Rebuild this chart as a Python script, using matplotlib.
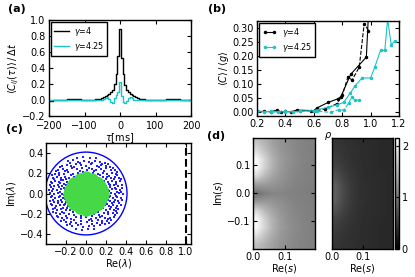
import numpy as np
import matplotlib
matplotlib.use("Agg")
import matplotlib.pyplot as plt

# ---- panel (a): cross-correlation vs lag ----
tau = [-200, -180, -160, -140, -120, -100, -80, -60,
       -55, -50, -45, -40, -35, -30, -25, -20, -15, -10, -5, 0,
       5, 10, 15, 20, 25, 30, 35, 40, 45, 50, 55,
       60, 80, 100, 120, 140, 160, 180, 200]
c_g4 = [-0.008, -0.005, 0.005, 0.01, 0.008, 0.0, 0.005, 0.008,
        0.012, 0.025, 0.035, 0.045, 0.06, 0.075, 0.10, 0.13, 0.20, 0.33, 0.55, 0.89,
        0.53, 0.32, 0.19, 0.13, 0.10, 0.075, 0.06, 0.045, 0.035, 0.025, 0.012,
        0.008, 0.005, 0.0, 0.005, 0.01, 0.008, 0.0, -0.005]
c_g425 = [0.0, -0.004, 0.002, 0.004, 0.0, -0.003, 0.002, 0.0,
          0.0, 0.005, 0.015, 0.03, 0.035, 0.01, -0.03, -0.035, 0.02, 0.06, 0.1, 0.22,
          0.05, -0.03, -0.035, -0.01, 0.02, 0.035, 0.02, 0.005, -0.005, 0.0, 0.0,
          0.002, -0.003, 0.0, 0.003, 0.0, -0.002, 0.002, 0.0]

# ---- panel (b): <C>/<g> vs rho ----
rho_g4 = [0.20, 0.25, 0.30, 0.34, 0.37, 0.40, 0.44, 0.48, 0.60, 0.62, 0.70,
          0.77, 0.79, 0.86, 0.97, 0.99]
cg_g4 = [0.004, 0.003, 0.002, 0.008, 0.001, 0.003, 0.002, 0.008, 0.006, 0.015,
         0.035, 0.048, 0.055, 0.135, 0.196, 0.40]
rho_g4_d = [0.58, 0.68, 0.76, 0.80, 0.84, 0.87, 0.92, 0.955, 0.985]
cg_g4_d = [0.003, 0.012, 0.03, 0.06, 0.125, 0.115, 0.16, 0.315, 0.29]
rho_g425 = [0.20, 0.25, 0.30, 0.35, 0.40, 0.45, 0.50, 0.60, 0.70, 0.76, 0.81,
            0.855, 0.89, 0.94, 1.00, 1.03, 1.07, 1.10, 1.12, 1.145, 1.17]
cg_g425 = [0.003, 0.002, 0.004, 0.001, 0.003, 0.002, 0.004, 0.006, 0.018,
           0.026, 0.035, 0.067, 0.094, 0.122, 0.122, 0.161, 0.22, 0.22, 0.33,
           0.24, 0.253]
rho_g425_d = [0.30, 0.40, 0.50, 0.62, 0.72, 0.78, 0.81, 0.845, 0.867, 0.89, 0.915]
cg_g425_d = [0.002, 0.001, 0.003, 0.004, 0.0, 0.01, 0.008, 0.032, 0.055, 0.043, 0.043]

# ---- panel (c): eigenvalue clouds ----
blue_pts = [
    (-0.09, 0.355), (-0.03, 0.365), (0.04, 0.352), (0.10, 0.348),
    (-0.18, 0.318), (-0.13, 0.33), (-0.08, 0.312), (-0.02, 0.325), (0.03, 0.31),
    (0.09, 0.322), (0.14, 0.315), (0.19, 0.305),
    (-0.24, 0.275), (-0.19, 0.285), (-0.15, 0.27), (-0.10, 0.29), (-0.05, 0.278),
    (0.0, 0.268), (0.05, 0.288), (0.11, 0.275), (0.15, 0.283), (0.20, 0.27), (0.24, 0.262),
    (-0.28, 0.235), (-0.23, 0.245), (-0.19, 0.232), (-0.14, 0.248), (-0.09, 0.238),
    (-0.04, 0.25), (0.01, 0.233), (0.06, 0.243), (0.10, 0.228), (0.15, 0.24),
    (0.20, 0.25), (0.25, 0.236), (0.29, 0.228),
    (-0.31, 0.195), (-0.27, 0.205), (-0.22, 0.19), (-0.18, 0.21), (-0.13, 0.198),
    (-0.08, 0.205), (-0.03, 0.21), (0.02, 0.195), (0.07, 0.2), (0.12, 0.192),
    (0.17, 0.205), (0.21, 0.195), (0.26, 0.203), (0.30, 0.19),
    (-0.33, 0.155), (-0.29, 0.165), (-0.25, 0.152), (-0.21, 0.168), (-0.17, 0.158),
    (-0.12, 0.163), (0.12, 0.155), (0.17, 0.168), (0.21, 0.16), (0.25, 0.152),
    (0.29, 0.165), (0.33, 0.158), (-0.07, 0.17), (0.06, 0.172),
    (-0.35, 0.115), (-0.31, 0.125), (-0.27, 0.118), (-0.23, 0.13), (-0.19, 0.112),
    (0.18, 0.12), (0.22, 0.11), (0.26, 0.128), (0.30, 0.115), (0.34, 0.122),
    (-0.36, 0.085), (-0.32, 0.075), (-0.28, 0.088), (-0.24, 0.078), (-0.20, 0.082),
    (0.20, 0.075), (0.24, 0.088), (0.28, 0.08), (0.32, 0.072), (0.36, 0.085),
    (-0.37, 0.035), (-0.33, 0.045), (-0.29, 0.038), (-0.25, 0.048), (-0.21, 0.04),
    (0.22, 0.035), (0.26, 0.047), (0.30, 0.04), (0.34, 0.033),
    (-0.36, 0.005), (-0.32, -0.005), (-0.28, 0.008), (-0.24, -0.002), (-0.21, 0.003),
    (0.21, -0.006), (0.25, 0.004), (0.29, -0.003), (0.33, 0.008), (0.37, -0.004),
    (-0.35, -0.035), (-0.31, -0.045), (-0.27, -0.038), (-0.23, -0.042),
    (0.23, -0.038), (0.27, -0.045), (0.31, -0.035), (0.35, -0.042),
    (-0.36, -0.078), (-0.32, -0.085), (-0.28, -0.075), (-0.24, -0.088), (-0.20, -0.08),
    (0.20, -0.085), (0.24, -0.078), (0.28, -0.088), (0.32, -0.075),
    (-0.34, -0.115), (-0.30, -0.125), (-0.26, -0.118), (-0.22, -0.112), (-0.18, -0.128),
    (0.19, -0.115), (0.23, -0.125), (0.27, -0.118), (0.31, -0.122), (0.35, -0.11),
    (-0.33, -0.155), (-0.29, -0.165), (-0.25, -0.152), (-0.20, -0.162), (-0.16, -0.168),
    (-0.07, -0.172), (0.08, -0.17), (0.15, -0.158), (0.20, -0.165), (0.24, -0.152),
    (0.28, -0.16), (0.32, -0.155),
    (-0.30, -0.195), (-0.26, -0.205), (-0.22, -0.192), (-0.17, -0.2), (-0.12, -0.21),
    (-0.07, -0.198), (-0.02, -0.207), (0.03, -0.195), (0.08, -0.203), (0.13, -0.21),
    (0.18, -0.196), (0.22, -0.205), (0.27, -0.198), (0.31, -0.19),
    (-0.28, -0.235), (-0.24, -0.245), (-0.19, -0.238), (-0.15, -0.25), (-0.10, -0.232),
    (-0.05, -0.242), (0.0, -0.236), (0.05, -0.248), (0.10, -0.24), (0.14, -0.232),
    (0.19, -0.245), (0.24, -0.238), (0.28, -0.23),
    (-0.25, -0.272), (-0.20, -0.285), (-0.15, -0.278), (-0.10, -0.29), (-0.05, -0.275),
    (0.01, -0.283), (0.06, -0.27), (0.11, -0.288), (0.16, -0.276), (0.21, -0.268),
    (0.25, -0.262),
    (-0.19, -0.31), (-0.14, -0.322), (-0.08, -0.315), (-0.03, -0.33), (0.03, -0.318),
    (0.08, -0.325), (0.14, -0.312), (0.19, -0.305),
    (-0.10, -0.352), (-0.04, -0.362), (0.02, -0.355), (0.08, -0.348),
    # second, offset layer
    (-0.16, 0.30), (-0.06, 0.30), (0.06, 0.30), (0.16, 0.295), (0.22, 0.29),
    (-0.26, 0.26), (-0.12, 0.262), (0.03, 0.255), (0.13, 0.258), (0.27, 0.25),
    (-0.30, 0.22), (-0.21, 0.222), (-0.06, 0.225), (0.08, 0.22), (0.18, 0.225), (0.31, 0.21),
    (-0.34, 0.18), (-0.27, 0.185), (-0.15, 0.18), (0.14, 0.185), (0.23, 0.178), (0.31, 0.18),
    (-0.32, 0.14), (-0.25, 0.135), (-0.20, 0.142), (0.20, 0.14), (0.28, 0.145), (0.35, 0.14),
    (-0.34, 0.10), (-0.26, 0.10), (-0.22, 0.095), (0.23, 0.098), (0.30, 0.095),
    (-0.35, 0.06), (-0.27, 0.062), (-0.22, 0.058), (0.24, 0.06), (0.29, 0.058), (0.36, 0.055),
    (-0.34, 0.02), (-0.26, 0.018), (0.23, 0.02), (0.31, 0.018), (0.35, 0.015),
    (-0.34, -0.02), (-0.26, -0.022), (-0.22, -0.018), (0.24, -0.02), (0.30, -0.022),
    (-0.33, -0.06), (-0.25, -0.06), (-0.21, -0.058), (0.22, -0.06), (0.29, -0.062), (0.36, -0.06),
    (-0.35, -0.10), (-0.28, -0.098), (-0.21, -0.10), (0.21, -0.10), (0.26, -0.098), (0.33, -0.095),
    (-0.31, -0.14), (-0.23, -0.14), (-0.19, -0.145), (0.17, -0.142), (0.25, -0.138), (0.30, -0.14),
    (-0.33, -0.18), (-0.24, -0.182), (-0.13, -0.18), (0.12, -0.182), (0.22, -0.18), (0.30, -0.175),
    (-0.29, -0.22), (-0.20, -0.222), (-0.05, -0.225), (0.06, -0.22), (0.16, -0.222), (0.29, -0.212),
    (-0.22, -0.26), (-0.12, -0.262), (0.03, -0.262), (0.12, -0.258), (0.22, -0.255),
    (-0.16, -0.30), (-0.05, -0.302), (0.06, -0.298), (0.16, -0.292), (0.23, -0.29),
]
green_core = [
    (-0.06, 0.14), (-0.02, 0.14), (0.02, 0.14), (0.06, 0.14),
    (-0.12, 0.105), (-0.08, 0.105), (-0.04, 0.105), (0.0, 0.105), (0.04, 0.105),
    (0.08, 0.105), (0.12, 0.105),
    (-0.14, 0.07), (-0.10, 0.07), (-0.06, 0.07), (-0.02, 0.07), (0.02, 0.07),
    (0.06, 0.07), (0.10, 0.07), (0.14, 0.07),
    (-0.16, 0.035), (-0.12, 0.035), (-0.08, 0.035), (-0.04, 0.035), (0.0, 0.035),
    (0.04, 0.035), (0.08, 0.035), (0.12, 0.035), (0.16, 0.035),
    (-0.17, 0.0), (-0.14, 0.0), (-0.10, 0.0), (-0.06, 0.0), (-0.02, 0.0), (0.02, 0.0),
    (0.06, 0.0), (0.10, 0.0), (0.14, 0.0), (0.17, 0.0),
    (-0.16, -0.035), (-0.12, -0.035), (-0.08, -0.035), (-0.04, -0.035), (0.0, -0.035),
    (0.04, -0.035), (0.08, -0.035), (0.12, -0.035), (0.16, -0.035),
    (-0.14, -0.07), (-0.10, -0.07), (-0.06, -0.07), (-0.02, -0.07), (0.02, -0.07),
    (0.06, -0.07), (0.10, -0.07), (0.14, -0.07),
    (-0.12, -0.105), (-0.08, -0.105), (-0.04, -0.105), (0.0, -0.105), (0.04, -0.105),
    (0.08, -0.105), (0.12, -0.105),
    (-0.06, -0.14), (-0.02, -0.14), (0.02, -0.14), (0.06, -0.14),
    (0.0, 0.165), (0.0, -0.165),
]
green_ring = [
    (0.19, 0.0), (0.197, 0.035), (0.169, 0.062), (0.173, 0.1), (0.138, 0.116),
    (0.129, 0.153), (0.09, 0.156), (0.068, 0.188), (0.031, 0.177), (0.0, 0.2),
    (-0.031, 0.177), (-0.068, 0.188), (-0.09, 0.156), (-0.129, 0.153), (-0.138, 0.116),
    (-0.173, 0.1), (-0.169, 0.062), (-0.197, 0.035), (-0.19, 0.0), (-0.197, -0.035),
    (-0.169, -0.062), (-0.173, -0.1), (-0.138, -0.116), (-0.129, -0.153), (-0.09, -0.156),
    (-0.068, -0.188), (-0.031, -0.177), (0.0, -0.2), (0.031, -0.177), (0.068, -0.188),
    (0.09, -0.156), (0.129, -0.153), (0.138, -0.116), (0.173, -0.1), (0.169, -0.062),
    (0.197, -0.035),
]
circle_radius = 0.41

# ---- panel (d): two maps over the complex s plane ----
re_s_extent = (0.0, 0.195)
im_s_extent = (-0.2, 0.195)
map_left = [
    [1.65, 1.50, 1.35, 1.25, 1.18, 1.13, 1.10, 1.08],
    [1.85, 1.62, 1.42, 1.28, 1.20, 1.14, 1.10, 1.08],
    [2.10, 1.78, 1.50, 1.32, 1.22, 1.15, 1.11, 1.08],
    [2.10, 1.75, 1.48, 1.30, 1.20, 1.14, 1.10, 1.07],
    [1.80, 1.55, 1.38, 1.26, 1.18, 1.12, 1.09, 1.07],
    [1.30, 1.30, 1.25, 1.20, 1.14, 1.10, 1.08, 1.06],
    [0.95, 1.05, 1.12, 1.12, 1.10, 1.08, 1.07, 1.05],
    [1.30, 1.30, 1.25, 1.20, 1.14, 1.10, 1.08, 1.06],
    [1.80, 1.55, 1.38, 1.26, 1.18, 1.12, 1.09, 1.07],
    [2.10, 1.75, 1.48, 1.30, 1.20, 1.14, 1.10, 1.07],
    [2.10, 1.78, 1.50, 1.32, 1.22, 1.15, 1.11, 1.08],
    [1.85, 1.62, 1.42, 1.28, 1.20, 1.14, 1.10, 1.08],
    [1.60, 1.48, 1.35, 1.25, 1.18, 1.13, 1.10, 1.08],
]
map_right = [
    [0.45, 0.42, 0.40, 0.38, 0.37, 0.36, 0.35, 0.35],
    [0.48, 0.44, 0.41, 0.39, 0.37, 0.36, 0.35, 0.35],
    [0.52, 0.46, 0.42, 0.39, 0.37, 0.36, 0.35, 0.35],
    [0.58, 0.50, 0.44, 0.40, 0.38, 0.36, 0.35, 0.35],
    [0.68, 0.55, 0.46, 0.41, 0.38, 0.37, 0.36, 0.35],
    [0.78, 0.60, 0.48, 0.42, 0.39, 0.37, 0.36, 0.35],
    [0.80, 0.62, 0.49, 0.42, 0.39, 0.37, 0.36, 0.35],
    [0.78, 0.60, 0.48, 0.42, 0.39, 0.37, 0.36, 0.35],
    [0.68, 0.55, 0.46, 0.41, 0.38, 0.37, 0.36, 0.35],
    [0.58, 0.50, 0.44, 0.40, 0.38, 0.36, 0.35, 0.35],
    [0.52, 0.46, 0.42, 0.39, 0.37, 0.36, 0.35, 0.35],
    [0.48, 0.44, 0.41, 0.39, 0.37, 0.36, 0.35, 0.35],
    [0.45, 0.42, 0.40, 0.38, 0.37, 0.36, 0.35, 0.35],
]
cmax = 2.15

CYAN = "#1cc4c4"
GREEN = "#46d846"

plt.rcParams.update({
    "font.size": 7,
    "xtick.direction": "in",
    "ytick.direction": "in",
    "xtick.top": True,
    "ytick.right": True,
    "xtick.major.size": 3,
    "ytick.major.size": 3,
    "xtick.major.pad": 2,
    "ytick.major.pad": 2,
    "axes.linewidth": 1.0,
    "legend.fancybox": False,
    "legend.edgecolor": "black",
    "legend.framealpha": 1.0,
    "mathtext.fontset": "dejavusans",
})

W, H = 415, 277
fig = plt.figure(figsize=(W / 100, H / 100), dpi=100)


def box(l, r, t, b):
    return [l / W, 1 - b / H, (r - l) / W, (b - t) / H]


# (a)
ax = fig.add_axes(box(49, 191, 20, 116))
ax.plot(tau, c_g4, color="black", lw=1.0, drawstyle="steps-mid", label=r"$\gamma$=4")
ax.plot(tau, c_g425, color=CYAN, lw=1.0, drawstyle="steps-mid", label=r"$\gamma$=4.25")
ax.set_xlim(-200, 200)
ax.set_ylim(-0.2, 1.0)
ax.set_xticks([-200, -100, 0, 100, 200])
ax.set_yticks([-0.2, 0.0, 0.2, 0.4, 0.6, 0.8, 1.0])
ax.tick_params(axis="x", pad=3.5)
ax.tick_params(axis="y", pad=2.5)
ax.set_xlabel(r"$\tau$[ms]", labelpad=0)
ax.set_ylabel(r"$\langle C_{ij}(\tau)\rangle\,/\,\Delta t$", labelpad=1)
ax.legend(loc="upper left", fontsize=5.8, handlelength=1.8, borderpad=0.35,
          labelspacing=0.25, borderaxespad=0.3, handletextpad=0.6)

# (b)
ax = fig.add_axes(box(257, 399, 21, 116))
ax.plot(rho_g4, cg_g4, color="black", lw=0.8, marker=".", ms=3, label=r"$\gamma$=4")
ax.plot(rho_g4_d, cg_g4_d, color="black", lw=0.8, ls="--", marker=".", ms=3)
ax.plot(rho_g425, cg_g425, color=CYAN, lw=0.8, marker=".", ms=3, label=r"$\gamma$=4.25")
ax.plot(rho_g425_d, cg_g425_d, color=CYAN, lw=0.8, ls="--", marker=".", ms=3)
ax.set_xlim(0.2, 1.2)
ax.set_ylim(-0.013, 0.324)
ax.set_xticks([0.2, 0.4, 0.6, 0.8, 1.0, 1.2])
ax.set_yticks([0.0, 0.05, 0.10, 0.15, 0.20, 0.25, 0.30])
ax.set_yticklabels(["0.00", "0.05", "0.10", "0.15", "0.20", "0.25", "0.30"])
ax.set_xlabel(r"$\rho$", labelpad=1)
ax.set_ylabel(r"$\langle C\rangle\,/\,\langle g\rangle$", labelpad=1)
ax.legend(loc="upper left", fontsize=5.8, handlelength=1.8, numpoints=2,
          borderpad=0.35, labelspacing=0.25, borderaxespad=0.3, handletextpad=0.6)

# (c)
ax = fig.add_axes(box(46, 191, 143, 244))
bp = np.array(blue_pts)
gc = np.array(green_core)
gr = np.array(green_ring)
ax.plot(bp[:, 0], bp[:, 1], ls="none", marker="s", ms=1.8, color="#2020ff", mew=0)
ax.plot(gc[:, 0], gc[:, 1], ls="none", marker="o", ms=9, color=GREEN, mew=0)
ax.plot(gr[:, 0], gr[:, 1], ls="none", marker="o", ms=2.2, color=GREEN, mew=0)
ax.add_patch(plt.Circle((0, 0), circle_radius, fill=False, color="blue", lw=1.0))
ax.axvline(1.0, color="black", ls="--", lw=1.5)
ax.set_xlim(-0.4, 1.05)
ax.set_ylim(-0.5, 0.5)
ax.set_xticks([-0.2, 0.0, 0.2, 0.4, 0.6, 0.8, 1.0])
ax.set_yticks([-0.4, -0.2, 0.0, 0.2, 0.4])
ax.set_xlabel(r"Re($\lambda$)", labelpad=0)
ax.set_ylabel(r"Im($\lambda$)", labelpad=1)

# (d)
ext = [re_s_extent[0], re_s_extent[1], im_s_extent[0], im_s_extent[1]]
ax = fig.add_axes(box(253, 315, 138, 249))
ax.imshow(np.array(map_left), cmap="gray", vmin=0, vmax=cmax, extent=ext,
          aspect="auto", interpolation="bilinear")
ax.set_xticks([0.0, 0.1])
ax.set_yticks([-0.1, 0.0, 0.1])
ax.set_xlabel(r"Re($s$)", labelpad=0)
ax.set_ylabel(r"Im($s$)", labelpad=1)

ax2 = fig.add_axes(box(332, 393, 138, 249))
im = ax2.imshow(np.array(map_right), cmap="gray", vmin=0, vmax=cmax, extent=ext,
                aspect="auto", interpolation="bilinear")
ax2.set_xticks([0.0, 0.1])
ax2.set_yticks([])
ax2.set_xlabel(r"Re($s$)", labelpad=0)

cax = fig.add_axes(box(395, 399, 138, 249))
cb = fig.colorbar(im, cax=cax, ticks=[0, 1, 2])
cb.ax.tick_params(direction="in", length=2, pad=2)
cb.outline.set_linewidth(1.0)

for lab, x, y in [("(a)", 8, 4), ("(b)", 208, 4), ("(c)", 6, 124), ("(d)", 207, 131)]:
    fig.text(x / W, 1 - y / H, lab, fontsize=8, fontweight="bold", va="top", ha="left")

fig.savefig("out.png", dpi=100)
